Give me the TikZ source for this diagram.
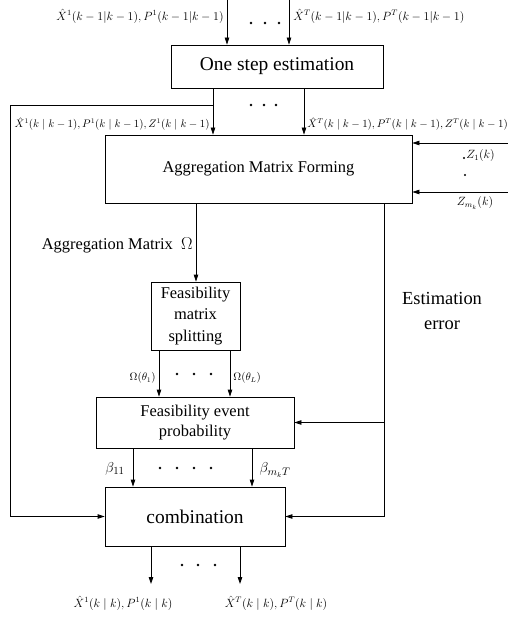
\documentclass[tikz,border=0pt]{standalone}
\usepackage{fontspec}
\setmainfont{Liberation Serif}
\usetikzlibrary{arrows.meta, positioning, calc}
\tikzset{
  every picture/.style={line width=0.8pt, x=1bp, y=-1bp},
  box/.style={draw, fill=white, align=center, inner sep=0pt},
  arrow/.style={-{Triangle[length=7bp, width=4.5bp]}},
  lab/.style={font=\fontsize{10.7}{12}\selectfont, inner sep=0pt},
  big/.style={font=\fontsize{19.5}{23}\selectfont},
  mid/.style={font=\fontsize{16.5}{22}\selectfont},
}

\begin{document}
\begin{tikzpicture}
  \useasboundingbox (0,0) rectangle (508,617);
  % boxes
  \node[box, big, minimum width=212bp, minimum height=43bp] (est) at (277,66.5) {One step estimation};
  \node[box, mid, minimum width=307bp, minimum height=68bp] (agg) at (258.5,169) {Aggregation Matrix Forming};
  \node[box, mid, minimum width=89bp, minimum height=68bp] (split) at (195.5,316) {Feasibility\\ matrix\\ splitting};
  \node[box, mid, minimum width=198bp, minimum height=51bp, font=\fontsize{16.5}{20}\selectfont] (prob) at (195,422.5) {Feasibility event\\ probability};
  \node[box, big, minimum width=180bp, minimum height=59bp] (comb) at (195,516.5) {combination};

  % inputs on top
  \coordinate (in1) at (227,0);
  \coordinate (inT) at (289,0);
  \foreach \c in {in1,inT} \draw[arrow] (\c) -- (\c |- est.north);
  \node[lab, anchor=east, font=\fontsize{11.7}{13}\selectfont] (lin1) at (224,16) {$\hat X^1(k-1|k-1), P^1(k-1|k-1)$};
  \node[lab, anchor=west, font=\fontsize{11.7}{13}\selectfont] (linT) at (293,16) {$\hat X^T(k-1|k-1), P^T(k-1|k-1)$};
  \foreach \x in {251,265,279} \fill (\x,23) circle (1.4bp);

  % predictions
  \coordinate (p1) at (213,0);
  \coordinate (pT) at (304,0);
  \coordinate (jn) at (213,105);
  \coordinate (lft) at (10,105);
  \foreach \c in {p1,pT} \draw[arrow] (\c |- est.south) -- (\c |- agg.north);
  \draw[arrow] (jn) -- (lft) |- (comb.west);
  \node[lab, anchor=east] (lp1) at (210,124) {$\hat X^1(k\mid k-1), P^1(k\mid k-1), Z^1(k\mid k-1)$};
  \node[lab, anchor=west] (lpT) at (307,124) {$\hat X^T(k\mid k-1), P^T(k\mid k-1), Z^T(k\mid k-1)$};
  \foreach \x in {251,264,276} \fill (\x,105) circle (1.4bp);

  % measurements
  \coordinate (z1) at (508,143);
  \coordinate (zm) at (508,192);
  \foreach \c in {z1,zm} \draw[arrow] (\c) -- (\c -| agg.east);
  \fill (464,158) circle (1.1bp);
  \fill (465,175) circle (1.1bp);
  \node[lab, anchor=west, font=\fontsize{12}{14}\selectfont] (lz1) at (466,156) {$Z_1(k)$};
  \node[lab, font=\fontsize{12}{14}\selectfont] (lzm) at (475,203) {$Z_{m_k}(k)$};

  % aggregation matrix
  \coordinate (om) at (196,0);
  \draw[arrow] (om |- agg.south) -- (om |- split.north);
  \node[mid, anchor=east, inner sep=0pt] (lom) at (193,245) {Aggregation Matrix\ \ $\Omega$};

  % estimation error
  \coordinate (er) at (384,0);
  \draw[arrow] (er |- agg.south) |- (comb.east);
  \draw[arrow] (er |- prob.east) -- (prob.east);
  \node[font=\fontsize{18.5}{25}\selectfont, align=center] (lerr) at (442,311) {Estimation\\ error};

  % splitting
  \coordinate (s1) at (159,0);
  \coordinate (sL) at (230,0);
  \foreach \c in {s1,sL} \draw[arrow] (\c |- split.south) -- (\c |- prob.north);
  \node[lab, anchor=east, font=\fontsize{10.5}{12}\selectfont] (ls1) at (156,378) {$\Omega(\theta_1)$};
  \node[lab, anchor=west, font=\fontsize{10.5}{12}\selectfont] (lsL) at (233,378) {$\Omega(\theta_L)$};
  \foreach \x in {177,194,211} \fill (\x,374) circle (1.4bp);

  % probabilities
  \coordinate (b1) at (133,0);
  \coordinate (bT) at (252,0);
  \foreach \c in {b1,bT} \draw[arrow] (\c |- prob.south) -- (\c |- comb.north);
  \node[lab, font=\fontsize{15}{17}\selectfont] (lb1) at (115,469) {$\beta_{11}$};
  \node[lab, font=\fontsize{15}{17}\selectfont] (lbT) at (275,470) {$\beta_{m_kT}$};
  \foreach \x in {160,177,194,211} \fill (\x,468) circle (1.4bp);

  % outputs
  \coordinate (e1) at (151,584);
  \coordinate (eT) at (240,584);
  \foreach \c in {e1,eT} \draw[arrow] (\c |- comb.south) -- (\c);
  \node[lab, font=\fontsize{11.5}{13}\selectfont] (le1) at (123,603) {$\hat X^1(k\mid k), P^1(k\mid k)$};
  \node[lab, font=\fontsize{11.5}{13}\selectfont] (leT) at (276,603) {$\hat X^T(k\mid k), P^T(k\mid k)$};
  \foreach \x in {182,198,215} \fill (\x,565) circle (1.4bp);
\end{tikzpicture}
\end{document}
